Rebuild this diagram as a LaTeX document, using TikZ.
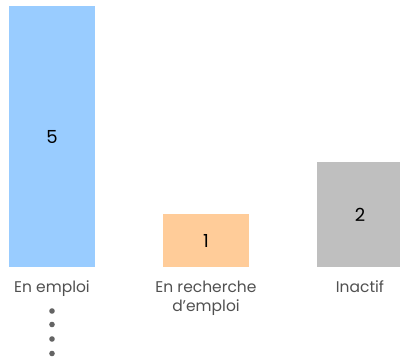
\documentclass[tikz,border=0pt]{standalone}
\usepackage{fontspec}
\setmainfont{Poppins}
\usetikzlibrary{positioning}

\definecolor{barblue}{RGB}{153,204,255}
\definecolor{barorange}{RGB}{255,204,153}
\definecolor{bargray}{RGB}{191,191,191}
\definecolor{labelgray}{RGB}{80,80,80}
\definecolor{dotgray}{RGB}{100,100,100}

\begin{document}
\begin{tikzpicture}[x=1pt, y=-1pt,
  bar/.style={minimum width=86pt, inner sep=0pt, font=\fontsize{18}{21}\selectfont},
  lbl/.style={anchor=base, align=center, text=labelgray, font=\fontsize{15.5}{19.5}\selectfont}]

\useasboundingbox ( 0, 0 ) rectangle ( 400, 360 );

% Bars
\node [bar, fill=barblue, minimum height=261pt] (emploi) at ( 52, 136.5 ) {5};
\node [bar, fill=barorange, minimum height=53pt] (recherche) at ( 206, 240.5 ) {1};
\node [bar, fill=bargray, minimum height=105pt] (inactif) at ( 360, 214.5 ) {2};

% Labels
\node [lbl] (lemploi) at ( 52, 292 ) {En emploi};
\node [lbl] (lrecherche) at ( 206, 311.5 ) {En recherche\\d’emploi};
\node [lbl] (linactif) at ( 360, 292 ) {Inactif};

% Dots
\fill [dotgray] ( 52, 311 ) circle ( 2.8 );
\fill [dotgray] ( 52, 324.5 ) circle ( 2.8 );
\fill [dotgray] ( 52, 339 ) circle ( 2.8 );
\fill [dotgray] ( 52, 353.5 ) circle ( 2.8 );

\end{tikzpicture}
\end{document}
